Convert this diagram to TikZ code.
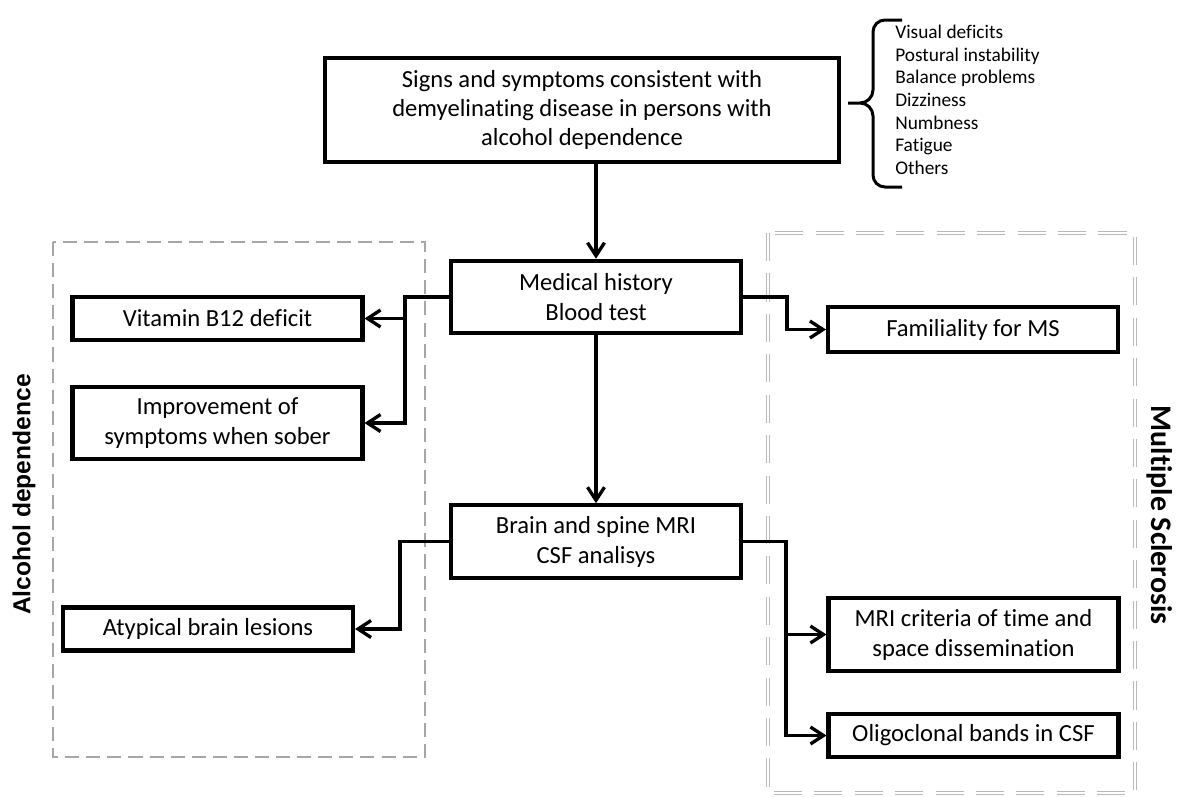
\documentclass[tikz,border=0pt]{standalone}
\usepackage{fontspec}
\setmainfont{Carlito}[Ligatures={NoCommon}]
\newfontfamily\alcfont{Liberation Sans}
\usepackage{tikz}
\usetikzlibrary{arrows.meta,positioning}

\begin{document}
\begin{tikzpicture}[
    box/.style={draw, line width=2.3pt, inner sep=0pt, minimum width=5.8cm,
                align=center, font=\fontsize{14}{17}\selectfont},
    onebox/.style={box, minimum height=0.86cm},
    twobox/.style={box, minimum height=1.45cm},
    conn/.style={line width=1.9pt, -{Straight Barb[length=2.6mm,width=3.4mm]}},
    alcframe/.style={draw=gray!70, line width=1.5pt, dash pattern=on 8pt off 4pt},
    msframe/.style={draw=gray!55, line width=0.5pt, double=white, double distance=1.3pt,
                    dash pattern=on 16pt off 7pt}
  ]
    \useasboundingbox (0,0) rectangle (23.6,-15.92);
    % ------------------------------------------------------------------
    %                             FRAMES
    % ------------------------------------------------------------------
    \draw[alcframe] (1.06,-4.84) rectangle (8.5,-15.14);
    \draw[msframe]  (15.36,-4.66) rectangle (22.7,-15.86);
    \node[rotate=90, font=\alcfont\bfseries\fontsize{14}{16}\selectfont]
         (alc) at (0.48,-9.89) {Alcohol dependence};
    \node[rotate=-90, font=\bfseries\fontsize{17}{19}\selectfont]
         (ms) at (23.2,-10.3) {Multiple Sclerosis};

    % ------------------------------------------------------------------
    %                             NODES
    % ------------------------------------------------------------------
    % top
    \node[box, minimum width=10.28cm, minimum height=2.08cm, font=\fontsize{14}{16.5}\selectfont]
         (signs) at (11.64,-2.2)
         {Signs and symptoms consistent with\\demyelinating disease in persons with\\alcohol dependence};
    \node[anchor=west, align=left, inner sep=0pt, font=\fontsize{11}{12.9}\selectfont]
         (symp) at (17.9,-2.0)
         {Visual deficits\\Postural instability\\Balance problems\\Dizziness\\Numbness\\Fatigue\\Others};
    % middle column
    \node[twobox] (med) at (11.92,-5.94)  {Medical history\\Blood test};
    \node[twobox] (mri) at (11.92,-10.83) {Brain and spine MRI\\CSF analisys};
    % alcohol side
    \node[onebox] (vit)  at (4.35,-6.37)  {Vitamin B12 deficit};
    \node[twobox] (impr) at (4.35,-8.46)  {Improvement of\\symptoms when sober};
    \node[onebox] (atyp) at (4.16,-12.58) {Atypical brain lesions};
    % MS side
    \node[onebox, minimum height=0.9cm] (fam) at (19.46,-6.59) {Familiality for MS};
    \node[twobox] (mric) at (19.47,-12.69) {MRI criteria of time and\\space dissemination};
    \node[onebox] (olig) at (19.47,-14.71) {Oligoclonal bands in CSF};

    % brace round the symptom list
    \draw[line width=1.7pt]
      (18.04,-0.4) -- (17.7,-0.4) to[out=180,in=90] (17.46,-0.64)
      -- (17.46,-1.8) to[out=-90,in=0] (17.2,-2.06) -- (16.96,-2.06)
      (17.2,-2.06) to[out=0,in=90] (17.46,-2.32)
      -- (17.46,-3.5) to[out=-90,in=180] (17.7,-3.74) -- (18.04,-3.74);

    % ------------------------------------------------------------------
    %                             EDGES
    % ------------------------------------------------------------------
    \coordinate (jl) at (8.1,-5.94);
    \coordinate (jr) at (15.72,-10.83);

    \draw[conn] (signs.south -| med.north) -- (med.north);
    \draw[conn] (med) -- (mri);
    % from medical history
    \draw[conn] (med.west) -- (jl) |- (impr.east);
    \draw[conn] (jl |- vit.east) -- (vit.east);
    \draw[conn] (med.east) -- ++(0.88,0) |- (fam.west);
    % from MRI
    \draw[conn] (mri.west) -- ++(-0.98,0) |- (atyp.east);
    \draw[conn] (mri.east) -- (jr) |- (olig.west);
    \draw[conn] (jr |- mric.west) -- (mric.west);
\end{tikzpicture}
\end{document}
